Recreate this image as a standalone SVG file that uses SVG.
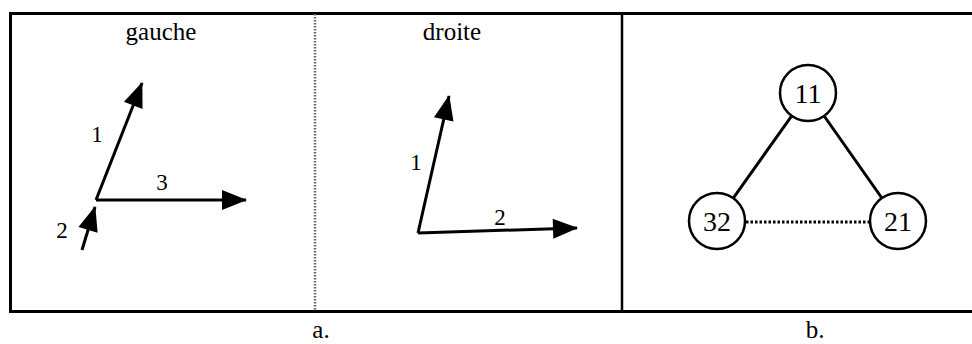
<svg xmlns="http://www.w3.org/2000/svg" width="972" height="344" viewBox="0 0 972 344">
<style>
.frame{stroke:#000;stroke-width:3;fill:none}
.div{stroke:#000;stroke-width:2.5}
.dot{stroke:#666;stroke-width:2.5;stroke-dasharray:1.5 1.5}
.arr{stroke:#000;stroke-width:3;fill:none;marker-end:url(#ah)}
.edge{stroke:#000;stroke-width:3}
.dedge{stroke:#000;stroke-width:3;stroke-dasharray:2.5 2}
.node circle{fill:#fff;stroke:#000;stroke-width:2.5}
text{font-family:"Liberation Serif","Times New Roman",serif;fill:#000}
.t{font-size:25px}
.n{font-size:23px}
.c{font-size:28px;text-anchor:middle}
</style>
<defs>
<marker id="ah" markerUnits="userSpaceOnUse" markerWidth="26" markerHeight="22" refX="24" refY="10" orient="auto" overflow="visible">
<path d="M0,0 L25,10 L0,20 z" fill="#000"/>
</marker>
</defs>
<g id="frame">
<path class="frame" d="M972,13.5 H10.5 V311.5 H972"/>
<line class="dot" x1="315" y1="14" x2="315" y2="311"/>
<line class="div" x1="622" y1="14" x2="622" y2="311"/>
</g>
<g id="gauche">
<text class="t" x="161" y="40" text-anchor="middle">gauche</text>
<line class="arr" x1="96" y1="200" x2="142" y2="83"/>
<line class="arr" x1="96" y1="200" x2="246" y2="200"/>
<line class="arr" x1="82" y1="250" x2="95" y2="207"/>
<text class="n" x="97" y="142" text-anchor="middle">1</text>
<text class="n" x="162" y="190" text-anchor="middle">3</text>
<text class="n" x="62" y="238" text-anchor="middle">2</text>
</g>
<g id="droite">
<text class="t" x="452" y="40" text-anchor="middle">droite</text>
<line class="arr" x1="418" y1="233" x2="449" y2="96"/>
<line class="arr" x1="418" y1="233" x2="577" y2="228"/>
<text class="n" x="416" y="170" text-anchor="middle">1</text>
<text class="n" x="500" y="225" text-anchor="middle">2</text>
</g>
<g id="connectors">
<line class="edge" x1="808" y1="93" x2="717" y2="221"/>
<line class="edge" x1="808" y1="93" x2="898" y2="221"/>
<line class="dedge" x1="746" y1="222" x2="869" y2="222"/>
</g>
<g id="n11" class="node"><circle cx="808" cy="93" r="28"/><text class="c" x="808" y="103">11</text></g>
<g id="n32" class="node"><circle cx="717" cy="221" r="28"/><text class="c" x="717" y="231">32</text></g>
<g id="n21" class="node"><circle cx="898" cy="221" r="28"/><text class="c" x="898" y="231">21</text></g>
<text class="t" x="321" y="338" text-anchor="middle">a.</text>
<text class="t" x="815" y="338" text-anchor="middle">b.</text>
</svg>
